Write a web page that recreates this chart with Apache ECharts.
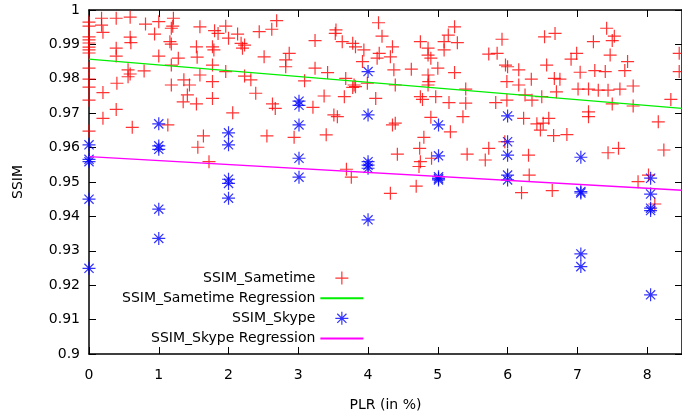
<!DOCTYPE html>
<html>
<head>
<meta charset="utf-8">
<script src="https://cdn.jsdelivr.net/npm/echarts@6/dist/echarts.min.js"></script>
<style>
  html, body { margin: 0; padding: 0; background: #fff; }
  #chart { width: 682px; height: 418px; }
</style>
</head>
<body>
<div id="chart"></div>
<script>
// SSIM vs packet loss rate, [PLR %, SSIM] pairs
const sametimeLow = [
  [0,0.9965],[0,0.9953],[0,0.9922],[0,0.9913],[0,0.9904],[0,0.9892],[0,0.9884],[0,0.9875],[0,0.9831],[0,0.9799],[0,0.9776],[0,0.9738],[0,0.9648],
  [0.18,0.9976],[0.39,0.9976],[0.59,0.9979],[0.18,0.9956],[0.20,0.9935],[0.81,0.9959],[1.00,0.9966],[1.21,0.9976],[1.20,0.9953],[1.18,0.9947],
  [0.94,0.9930],[0.59,0.9921],[0.60,0.9905],[1.16,0.9908],[1.18,0.9901],[0.39,0.9889],[0.39,0.9866],[1.00,0.9866],[1.28,0.9860],[1.54,0.9893],
  [1.55,0.9863],[0.56,0.9826],[0.59,0.9814],[0.56,0.9806],[0.79,0.9823],[1.18,0.9840],[0.40,0.9787],[0.20,0.9760],[1.18,0.9782],[1.36,0.9797],
  [1.44,0.9782],[1.41,0.9753],[1.35,0.9733],[1.54,0.9727],[0.39,0.9711],[0.20,0.9685],[0.62,0.9659],[1.13,0.9666],[1.59,0.9951],[1.59,0.9811],
  [1.56,0.9601],[1.64,0.9634]
];
const sametimeMid = [
  [1.80,0.9940],[1.96,0.9953],[1.85,0.9932],[2.00,0.9918],[2.13,0.9930],[2.44,0.9937],[2.62,0.9944],[2.69,0.9969],[1.77,0.9893],[1.79,0.9884],
  [2.18,0.9903],[2.23,0.9898],[2.20,0.9889],[1.77,0.9840],[2.51,0.9864],[2.87,0.9874],[2.82,0.9855],[2.82,0.9835],[3.24,0.9911],[3.54,0.9942],
  [3.53,0.9932],[3.63,0.9908],[3.78,0.9903],[3.82,0.9893],[3.94,0.9884],[3.92,0.9850],[3.24,0.9831],[3.42,0.9818],[1.77,0.9792],[1.96,0.9821],
  [2.23,0.9808],[2.32,0.9797],[3.09,0.9794],[3.68,0.9801],[3.80,0.9782],[3.78,0.9775],[3.82,0.9777],[3.99,0.9787],[2.39,0.9758],[1.77,0.9743],
  [2.63,0.9727],[2.67,0.9714],[3.37,0.9750],[3.66,0.9748],[3.21,0.9717],[3.51,0.9695],[3.56,0.9690],[2.06,0.9701],[2.55,0.9634],[2.94,0.9630],
  [3.40,0.9637],[1.72,0.9559],[3.69,0.9537],[3.76,0.9514]
];
const sametimeHigh = [
  [4.15,0.9963],[4.20,0.9924],[4.16,0.9874],[4.13,0.9860],[4.11,0.9743],[4.32,0.9467],[4.35,0.9893],[4.32,0.9864],[4.37,0.9826],[4.62,0.9828],
  [4.75,0.9908],[4.86,0.9889],[4.86,0.9869],[4.90,0.9860],[5.00,0.9831],[4.86,0.9811],[4.87,0.9792],[4.86,0.9782],[5.09,0.9908],[5.15,0.9927],
  [5.24,0.9951],[5.28,0.9905],[5.09,0.9884],[5.24,0.9818],[4.39,0.9782],[4.75,0.9748],[4.78,0.9740],[4.97,0.9748],[5.16,0.9731],[5.40,0.9770],
  [5.40,0.9729],[5.36,0.9690],[4.90,0.9688],[4.35,0.9666],[4.39,0.9671],[5.18,0.9646],[4.80,0.9630],[5.92,0.9915],[5.73,0.9872],[5.85,0.9874],
  [5.97,0.9840],[5.99,0.9792],[5.83,0.9731],[5.99,0.9738],[4.42,0.9581],[4.74,0.9598],[4.75,0.9559],[4.73,0.9545],[4.91,0.9569],[5.42,0.9581],
  [5.73,0.9598],[5.68,0.9564],[5.96,0.9617],[4.69,0.9488]
];
const sametimeTop = [
  [6.00,0.9835],[6.16,0.9826],[6.34,0.9799],[6.16,0.9782],[6.25,0.9753],[6.35,0.9738],[6.49,0.9748],[6.53,0.9922],[6.68,0.9932],[6.56,0.9840],
  [6.67,0.9801],[6.75,0.9799],[6.70,0.9762],[6.91,0.9857],[6.99,0.9874],[6.23,0.9685],[6.42,0.9669],[6.59,0.9685],[6.51,0.9671],[6.47,0.9651],
  [6.66,0.9635],[6.85,0.9638],[7.04,0.9819],[6.30,0.9578],[6.31,0.9520],[6.20,0.9469],[6.64,0.9475],[7.42,0.9947],[7.53,0.9924],[7.50,0.9911],
  [7.23,0.9908],[7.47,0.9869],[7.72,0.9850],[7.68,0.9824],[7.40,0.9821],[7.25,0.9824],[7.01,0.9770],[7.16,0.9770],[7.30,0.9767],[7.44,0.9767],
  [7.61,0.9770],[7.80,0.9779],[7.50,0.9727],[7.80,0.9721],[8.34,0.9740],[7.16,0.9704],[7.16,0.9690],[8.16,0.9675],[8.46,0.9874],[8.46,0.9821],
  [7.44,0.9585],[7.59,0.9598],[8.24,0.9593],[7.87,0.9501],[8.11,0.9436],[8.02,0.9520]
];
const skypePoints = [
  [0,0.9608],[0,0.9566],[0,0.9559],[0,0.9450],[0,0.9249],
  [1.00,0.9669],[1.00,0.9605],[1.00,0.9595],[1.00,0.9421],[1.00,0.9336],
  [2.00,0.9643],[2.00,0.9608],[2.00,0.9508],[2.00,0.9496],[2.00,0.9453],
  [3.01,0.9735],[3.01,0.9723],[3.01,0.9666],[3.01,0.9569],[3.01,0.9514],
  [4.00,0.9821],[4.00,0.9695],[4.00,0.9559],[4.00,0.9549],[4.00,0.9540],[4.00,0.9390],
  [5.01,0.9666],[5.01,0.9576],[5.01,0.9515],[5.01,0.9510],[5.01,0.9506],
  [6.00,0.9692],[6.00,0.9617],[6.00,0.9578],[6.00,0.9520],[6.00,0.9506],
  [7.05,0.9572],[7.05,0.9472],[7.05,0.9468],[7.05,0.9291],[7.05,0.9254],
  [8.05,0.9511],[8.05,0.9465],[8.05,0.9424],[8.05,0.9417],[8.05,0.9172]
];
// Linear fits, end points at PLR 0 and 8.5
const sametimeFit = [[0, 0.9857], [8.5, 0.9714]];
const skypeFit = [[0, 0.9574], [8.5, 0.9476]];

const seriesNames = ['SSIM_Sametime', 'SSIM_Sametime Regression', 'SSIM_Skype', 'SSIM_Skype Regression'];

const FONT = 'DejaVu Sans';
const PLUS = 'path://M0,6H12M6,0V12';
const STAR = 'path://M0,6H12M6,0V12M1.76,1.76L10.24,10.24M10.24,1.76L1.76,10.24';
const RED = '#ff0000', GREEN = '#00ee00', BLUE = '#0000ff', MAGENTA = '#ff00ff';
const CLEAR = 'rgba(0,0,0,0)';

const border = { show: true, onZero: false, lineStyle: { color: '#000', width: 1.5 } };
const tick = { show: true, inside: true, length: 7, lineStyle: { color: '#000', width: 1 } };
const label = { fontSize: 14, color: '#000', fontFamily: FONT };

const chart = echarts.init(document.getElementById('chart'), null, { renderer: 'canvas' });
chart.setOption({
  animation: false,
  backgroundColor: '#fff',
  grid: { left: 89, top: 10, right: -2, bottom: 64 },
  xAxis: [
    {
      type: 'value', min: 0, max: 8.5, interval: 1, position: 'bottom',
      name: 'PLR (in %)', nameLocation: 'middle', nameGap: 44,
      nameTextStyle: label,
      axisLine: border, axisTick: tick,
      axisLabel: Object.assign({ margin: 14, showMaxLabel: false }, label),
      splitLine: { show: false }
    },
    {
      type: 'value', min: 0, max: 8.5, interval: 1, position: 'top',
      axisLine: border, axisTick: tick, axisLabel: { show: false }, splitLine: { show: false }
    }
  ],
  yAxis: [
    {
      type: 'value', min: 0.9, max: 1, interval: 0.01, position: 'left',
      name: 'SSIM', nameLocation: 'middle', nameGap: 64,
      nameTextStyle: label,
      axisLine: border, axisTick: tick,
      axisLabel: Object.assign({ margin: 9 }, label),
      splitLine: { show: false }
    },
    {
      type: 'value', min: 0.9, max: 1, interval: 0.01, position: 'right',
      axisLine: border, axisTick: tick, axisLabel: { show: false }, splitLine: { show: false }
    }
  ],
  legend: {
    orient: 'vertical', align: 'right',
    left: 122, top: 271, padding: 0,
    itemWidth: 43, itemHeight: 13, itemGap: 6,
    textStyle: { fontSize: 14, color: '#000', fontFamily: FONT },
    selectedMode: false,
    data: [
      { name: seriesNames[0], itemStyle: { color: CLEAR, borderColor: RED, borderWidth: 1.2 } },
      { name: seriesNames[1], itemStyle: { color: CLEAR, borderColor: CLEAR, borderWidth: 0 } },
      { name: seriesNames[2], itemStyle: { color: CLEAR, borderColor: BLUE, borderWidth: 1.2 } },
      { name: seriesNames[3], itemStyle: { color: CLEAR, borderColor: CLEAR, borderWidth: 0 } }
    ]
  },
  series: [
    {
      name: seriesNames[0], type: 'scatter', clip: false,
      data: sametimeLow.concat(sametimeMid, sametimeHigh, sametimeTop),
      symbol: PLUS, symbolSize: 13, symbolKeepAspect: true,
      itemStyle: { color: CLEAR, borderColor: RED, borderWidth: 1.2 },
      emphasis: { disabled: true }
    },
    {
      name: seriesNames[1], type: 'line', data: sametimeFit,
      symbol: 'none', lineStyle: { color: GREEN, width: 1.3 }, itemStyle: { color: GREEN },
      emphasis: { disabled: true }
    },
    {
      name: seriesNames[2], type: 'scatter', clip: false, data: skypePoints,
      symbol: STAR, symbolSize: 13, symbolKeepAspect: true,
      itemStyle: { color: CLEAR, borderColor: BLUE, borderWidth: 1.2 },
      emphasis: { disabled: true }
    },
    {
      name: seriesNames[3], type: 'line', data: skypeFit,
      symbol: 'none', lineStyle: { color: MAGENTA, width: 1.3 }, itemStyle: { color: MAGENTA },
      emphasis: { disabled: true }
    }
  ]
});
</script>
</body>
</html>
